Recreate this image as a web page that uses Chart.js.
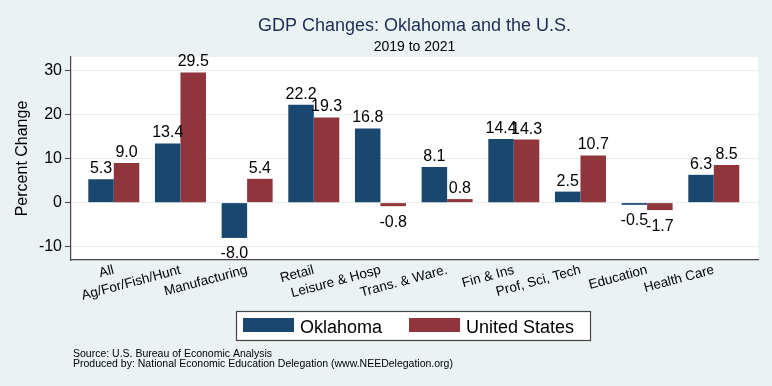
<!DOCTYPE html>
<html>
<head>
<meta charset="utf-8">
<script src="https://cdn.jsdelivr.net/npm/chart.js@4.4.1/dist/chart.umd.min.js"></script>
<style>
  html, body { margin: 0; padding: 0; background: #eaf2f3; }
  #wrap { width: 772px; height: 386px; }
</style>
</head>
<body>
<div id="wrap"><canvas id="gdpChart" width="772" height="386"></canvas></div>
<script>
// data
const categories = ['All', 'Ag/For/Fish/Hunt', 'Manufacturing', 'Retail', 'Leisure & Hosp',
  'Trans. & Ware.', 'Fin & Ins', 'Prof, Sci, Tech', 'Education', 'Health Care'];
const oklahoma = [5.3, 13.4, -8.0, 22.2, 16.8, 8.1, 14.4, 2.5, -0.5, 6.3];
const unitedStates = [9.0, 29.5, 5.4, 19.3, -0.8, 0.8, 14.3, 10.7, -1.7, 8.5];
const seriesNames = ['Oklahoma', 'United States'];
const yTicks = [-10, 0, 10, 20, 30];

const FONT = "'Liberation Sans', Arial, Helvetica, sans-serif";
const NAVY = '#1a476f';
const MAROON = '#90353b';

// page background + white plot region
const backdrop = {
    id: 'backdrop',
    beforeDraw(chart) {
        const ctx = chart.ctx;
        const a = chart.chartArea;
        ctx.save();
        ctx.fillStyle = '#eaf2f3';
        ctx.fillRect(0, 0, chart.width, chart.height);
        ctx.fillStyle = '#ffffff';
        ctx.fillRect(a.left, a.top, a.right - a.left, a.bottom - a.top);
        ctx.restore();
    }
};

// value labels above / below each bar
const valueLabels = {
    id: 'valueLabels',
    afterDatasetsDraw(chart) {
        const ctx = chart.ctx;
        ctx.save();
        ctx.font = '16px ' + FONT;
        ctx.fillStyle = '#000';
        ctx.textAlign = 'center';
        ctx.textBaseline = 'alphabetic';
        chart.data.datasets.forEach((ds, di) => {
            const meta = chart.getDatasetMeta(di);
            meta.data.forEach((bar, i) => {
                const v = ds.data[i].y;
                const txt = v.toFixed(1);
                if (v >= 0) {
                    ctx.fillText(txt, bar.x, bar.y - 6);
                } else {
                    ctx.fillText(txt, bar.x, bar.y + 20.5);
                }
            });
        });
        ctx.restore();
    }
};

// titles, legend box and notes
const decorations = {
    id: 'decorations',
    afterDraw(chart) {
        const ctx = chart.ctx;
        const a = chart.chartArea;
        const cx = (a.left + a.right) / 2;
        ctx.save();
        ctx.textAlign = 'center';
        ctx.textBaseline = 'alphabetic';
        ctx.fillStyle = '#1e2b55';
        ctx.font = '18px ' + FONT;
        ctx.fillText('GDP Changes: Oklahoma and the U.S.', cx, 31);
        ctx.fillStyle = '#000';
        ctx.font = '14px ' + FONT;
        ctx.fillText('2019 to 2021', cx, 51);

        // legend
        ctx.fillStyle = '#ffffff';
        ctx.fillRect(236, 311, 355, 30);
        ctx.strokeStyle = '#444';
        ctx.lineWidth = 1.2;
        ctx.strokeRect(236.5, 311.5, 354, 29);
        const colors = [NAVY, MAROON];
        const swX = [243, 409];
        ctx.font = '18px ' + FONT;
        ctx.textAlign = 'left';
        seriesNames.forEach((name, i) => {
            ctx.fillStyle = colors[i];
            ctx.fillRect(swX[i], 318, 51, 14);
            ctx.fillStyle = '#000';
            ctx.fillText(name, swX[i] + 57, 332.5);
        });

        // notes
        ctx.font = '10.5px ' + FONT;
        ctx.fillText('Source: U.S. Bureau of Economic Analysis', 73, 357);
        ctx.fillText('Produced by: National Economic Education Delegation (www.NEEDelegation.org)', 73, 367);
        ctx.restore();
    }
};

new Chart(document.getElementById('gdpChart').getContext('2d'), {
    type: 'bar',
    data: {
        datasets: [
            {
                label: seriesNames[0],
                data: oklahoma.map((v, i) => ({ x: i, y: v })),
                backgroundColor: NAVY,
                borderWidth: 0
            },
            {
                label: seriesNames[1],
                data: unitedStates.map((v, i) => ({ x: i, y: v })),
                backgroundColor: MAROON,
                borderWidth: 0
            }
        ]
    },
    options: {
        responsive: false,
        devicePixelRatio: 1,
        animation: false,
        categoryPercentage: 0.765,
        barPercentage: 1.0,
        layout: { padding: { left: 0, top: 57, right: 14, bottom: 0 } },
        plugins: {
            legend: { display: false },
            tooltip: { enabled: false }
        },
        scales: {
            x: {
                type: 'linear',
                offset: false,
                min: -0.642,
                max: 9.663,
                afterBuildTicks: scale => { scale.ticks = categories.map((c, i) => ({ value: i })); },
                afterFit: scale => { scale.height = 126; },
                grid: { display: false, offset: false },
                border: { display: true, color: '#444', width: 1.2 },
                ticks: {
                    autoSkip: false,
                    minRotation: 15,
                    maxRotation: 15,
                    padding: -6,
                    color: '#000',
                    font: { family: FONT, size: 13.5 },
                    callback: v => categories[v]
                }
            },
            y: {
                min: -13,
                max: 33,
                afterBuildTicks: scale => { scale.ticks = yTicks.map(v => ({ value: v })); },
                afterFit: scale => { scale.width = 71; },
                grid: {
                    color: '#e6eef0',
                    lineWidth: 1,
                    tickColor: '#444',
                    tickLength: 6,
                    drawTicks: true
                },
                border: { display: true, color: '#444', width: 1.2 },
                ticks: {
                    padding: 3,
                    color: '#000',
                    font: { family: FONT, size: 16 }
                },
                title: {
                    display: true,
                    text: 'Percent Change',
                    color: '#000',
                    font: { family: FONT, size: 16 },
                    padding: { top: 13, bottom: 4 }
                }
            }
        }
    },
    plugins: [backdrop, valueLabels, decorations]
});
</script>
</body>
</html>
